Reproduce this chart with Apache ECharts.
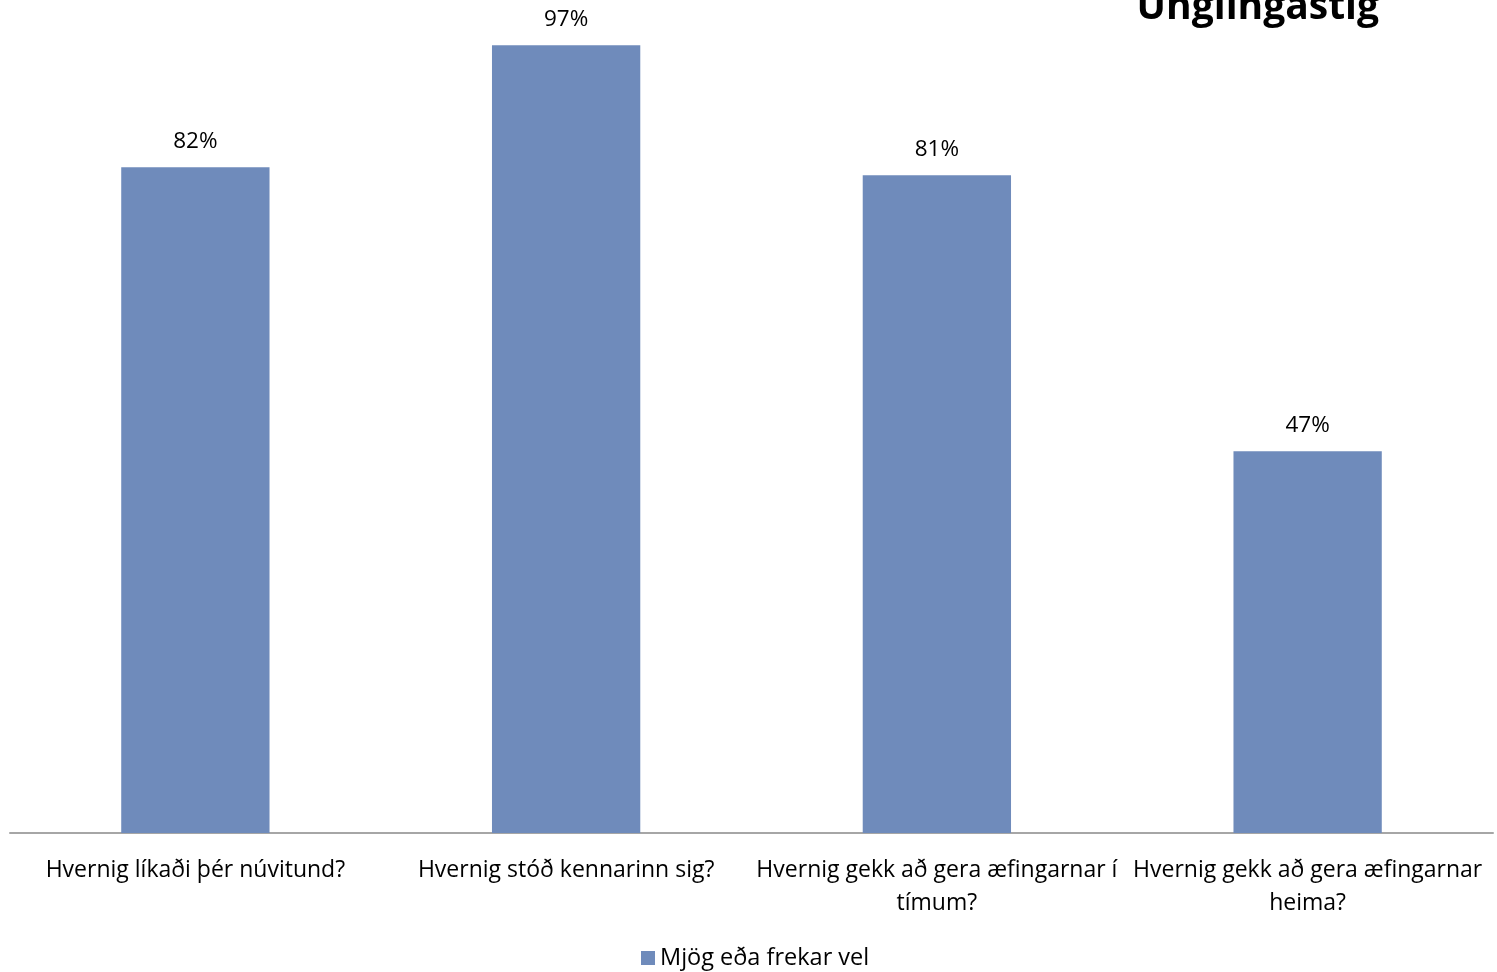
<!DOCTYPE html>
<html>
<head>
<meta charset="utf-8">
<script src="https://cdn.jsdelivr.net/npm/echarts@6/dist/echarts.min.js"></script>
<style>html,body{margin:0;padding:0;background:#fff}#c{width:1497px;height:972px}</style>
</head>
<body>
<div id="c"></div>
<script>
const categories = ["Hvernig líkaði þér núvitund?", "Hvernig stóð kennarinn sig?", "Hvernig gekk að gera æfingarnar í\ntímum?", "Hvernig gekk að gera æfingarnar\nheima?"];
const seriesName = "Mjög eða frekar vel";
const values = [0.82, 0.97, 0.81, 0.47];
const titleText = "Unglingastig";

const FONT = "'Open Sans', sans-serif";
const chart = echarts.init(document.getElementById('c'), null, {renderer: 'canvas'});
chart.setOption({
  animation: false,
  backgroundColor: '#fff',
  title: {
    text: titleText,
    right: 113,
    top: -17,
    textStyle: {fontFamily: FONT, fontWeight: 'bold', fontSize: 39, color: '#000'}
  },
  legend: {
    data: [seriesName],
    bottom: -3,
    left: 636,
    icon: 'rect',
    itemWidth: 14,
    itemHeight: 14,
    itemGap: 6,
    textStyle: {fontFamily: FONT, fontSize: 23.5, color: '#000'}
  },
  grid: {left: 10, right: 4, top: 21, bottom: 139, containLabel: false},
  xAxis: {
    type: 'category',
    data: categories,
    axisLine: {show: true, lineStyle: {color: '#a6a6a6', width: 2}},
    axisTick: {show: false},
    axisLabel: {
      interval: 0,
      margin: 21,
      fontFamily: FONT,
      fontSize: 23,
      lineHeight: 33,
      color: '#000'
    }
  },
  yAxis: {
    type: 'value',
    min: 0,
    max: 1,
    show: false,
    splitLine: {show: false}
  },
  series: [{
    name: seriesName,
    type: 'bar',
    data: values,
    barWidth: '40%',
    itemStyle: {color: '#6f8bbb'},
    label: {
      show: true,
      position: 'top',
      distance: 14,
      fontFamily: FONT,
      fontSize: 22.5,
      color: '#000',
      formatter: p => Math.round(p.value * 100) + '%'
    }
  }]
});
</script>
</body>
</html>
